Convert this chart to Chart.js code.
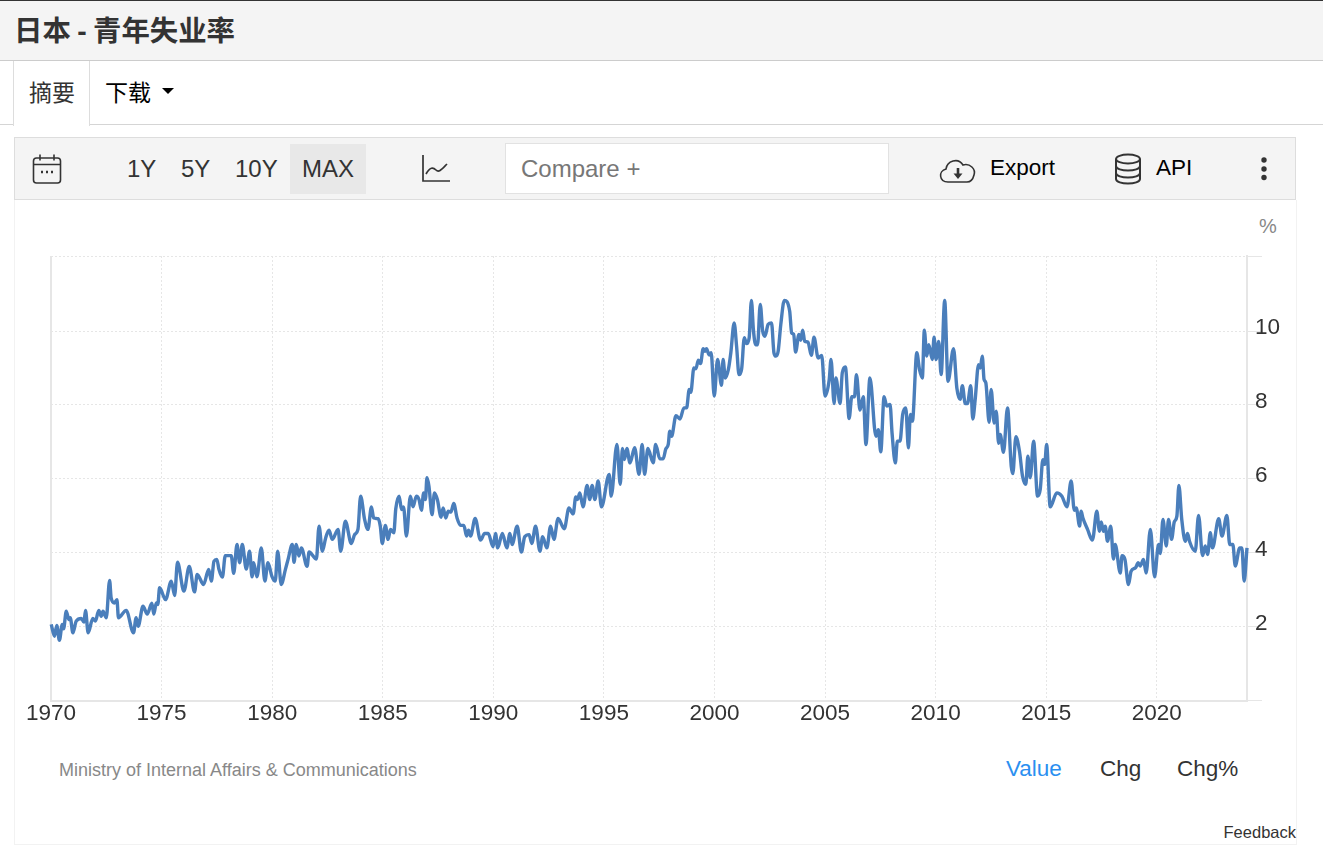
<!DOCTYPE html>
<html lang="zh-CN">
<head>
<meta charset="utf-8">
<title>日本 - 青年失业率</title>
<script src="https://cdn.jsdelivr.net/npm/chart.js@4"></script>
<style>
  * { box-sizing: border-box; }
  html, body { margin: 0; height: 862px; width: 1323px; overflow: hidden; background: #fff;
    font-family: "Liberation Sans", Arial, sans-serif; color: #333; }
  .abs { position: absolute; white-space: nowrap; }
  #header { left: 0; top: 0; width: 1323px; height: 61px; background: #f4f4f4;
    border-top: 1px solid #333; border-bottom: 1px solid #ccc; }
  #title { left: 14px; top: 12px; font: bold 28.4px/38px "Liberation Sans", "Noto Sans CJK SC"; word-spacing: -1.5px; color: #333; }
  #tabline { left: 0; top: 124px; width: 1323px; height: 1px; background: #d5d5d5; }
  #tab { left: 13px; top: 61px; width: 77px; height: 65px; background: #fff;
    border-left: 1px solid #ddd; border-right: 1px solid #ddd; }
  .tabtext { top: 74px; font: 23px/34px "Noto Sans CJK SC"; }
  #caret { left: 162px; top: 88px; width: 0; height: 0; border-left: 6px solid transparent;
    border-right: 6px solid transparent; border-top: 6px solid #000; }
  #toolbar { left: 14px; top: 137px; width: 1282px; height: 63px; background: #f4f4f4; border: 1px solid #ddd; }
  #maxbox { left: 290px; top: 144px; width: 76px; height: 50px; background: #e8e8e8; }
  #compare { left: 505px; top: 143px; width: 384px; height: 51px; background: #fff; border: 1px solid #e2e2e2; }
  .tool { top: 154px; font-size: 24px; line-height: 30px; color: #333; }
  .tool2 { top: 153px; font-size: 22.5px; line-height: 30px; color: #000; }
  #card { left: 14px; top: 200px; width: 1283px; height: 645px; border: 1px solid #f2f2f2; border-top: 0; }
  .views { top: 754px; font-size: 22.5px; line-height: 30px; color: #333; }
  canvas { position: absolute; left: 0; top: 0; }
</style>
</head>
<body>
<div class="abs" id="header"></div>
<div class="abs" id="title">日本 - 青年失业率</div>
<div class="abs" id="tabline"></div>
<div class="abs" id="tab"></div>
<div class="abs tabtext" style="left:29px;color:#333">摘要</div>
<div class="abs tabtext" style="left:105px;color:#000">下载</div>
<div class="abs" id="caret"></div>

<div class="abs" id="card"></div>
<div class="abs" id="toolbar"></div>
<div class="abs" id="maxbox"></div>
<div class="abs" id="compare"></div>

<svg class="abs" style="left:32px;top:153px" width="30" height="32" viewBox="0 0 30 32" fill="none" stroke="#333" stroke-width="1.6">
  <rect x="1.5" y="5" width="27" height="25" rx="3"/><path d="M1.5 11.5h27M8 1.5v6M22 1.5v6"/>
  <path d="M9 19h2M14 19h2M19 19h2" stroke-width="2.4"/>
</svg>
<div class="abs tool" style="left:127px">1Y</div>
<div class="abs tool" style="left:181px">5Y</div>
<div class="abs tool" style="left:235px">10Y</div>
<div class="abs tool" style="left:302px">MAX</div>
<svg class="abs" style="left:421px;top:154px" width="30" height="30" viewBox="0 0 30 30" fill="none" stroke="#333" stroke-width="1.7">
  <path d="M2 1v26h27"/><path d="M5 20c4-7 7-7 10-4s6-1 11-6"/>
</svg>
<div class="abs tool" style="left:521px;color:#777">Compare +</div>
<svg class="abs" style="left:939px;top:156px" width="38" height="28" viewBox="0 0 38 28" fill="none" stroke="#333" stroke-width="1.6">
  <path d="M9 26c-9 0-10-11-2-13 1-8 12-12 17-4 7-2 13 4 11 10-1 4-3 7-7 7z"/>
  <path d="M19 12v8" stroke-width="2.6"/><path d="M14.5 17.5h9L19 23z" fill="#333" stroke="none"/>
</svg>
<div class="abs tool2" style="left:990px">Export</div>
<svg class="abs" style="left:1114px;top:153px" width="28" height="32" viewBox="0 0 28 32" fill="none" stroke="#333" stroke-width="2">
  <ellipse cx="14" cy="6" rx="12" ry="4.5"/><path d="M2 6v20c0 6 24 6 24 0V6M2 13c0 6 24 6 24 0M2 20c0 6 24 6 24 0"/>
</svg>
<div class="abs tool2" style="left:1156px">API</div>
<svg class="abs" style="left:1258px;top:156px" width="12" height="26" viewBox="0 0 12 26" fill="#333">
  <circle cx="6" cy="4" r="2.7"/><circle cx="6" cy="13" r="2.7"/><circle cx="6" cy="21.500" r="2.7"/>
</svg>

<div class="abs" style="left:1259px;top:214px;font-size:20px;line-height:24px;color:#888">%</div>
<div class="abs" style="left:59px;top:758px;font-size:18px;line-height:24px;color:#888">Ministry of Internal Affairs &amp; Communications</div>
<div class="abs views" style="left:1006px;color:#2b8ff0">Value</div>
<div class="abs views" style="left:1100px">Chg</div>
<div class="abs views" style="left:1177px">Chg%</div>
<div class="abs" style="right:27px;top:822px;font-size:16.5px;line-height:20px;color:#333">Feedback</div>

<canvas id="chart" width="1323" height="862"></canvas>

<script>
// turning points of the series (decimal year / percent)
const years = [
  1970.01,1970.16,1970.26,1970.38,1970.51,1970.57,1970.69,1970.81,1970.87,1970.99,
  1971.14,1971.37,1971.49,1971.56,1971.68,1971.89,1972.01,1972.16,1972.27,1972.35,
  1972.50,1972.65,1972.72,1972.87,1972.98,1973.05,1973.40,1973.73,1973.85,1973.94,
  1974.16,1974.35,1974.56,1974.65,1974.76,1974.83,1974.91,1975.18,1975.44,1975.59,
  1975.72,1976.01,1976.25,1976.49,1976.61,1976.90,1977.13,1977.25,1977.37,1977.50,
  1977.59,1977.75,1977.88,1978.15,1978.26,1978.41,1978.53,1978.65,1978.83,1978.98,
  1979.09,1979.16,1979.31,1979.51,1979.67,1979.81,1979.99,1980.14,1980.25,1980.41,
  1980.60,1980.72,1980.91,1980.99,1981.09,1981.21,1981.32,1981.58,1981.67,1982.00,
  1982.12,1982.27,1982.42,1982.57,1982.72,1982.98,1983.10,1983.31,1983.58,1983.73,
  1983.88,1984.00,1984.18,1984.33,1984.49,1984.59,1984.79,1984.89,1984.98,1985.12,
  1985.24,1985.35,1985.50,1985.59,1985.74,1985.85,1985.94,1986.07,1986.25,1986.37,
  1986.52,1986.64,1986.75,1986.85,1986.93,1987.00,1987.09,1987.23,1987.34,1987.47,
  1987.64,1987.73,1987.85,1987.96,1988.08,1988.21,1988.36,1988.52,1988.67,1988.79,
  1988.88,1988.97,1989.18,1989.42,1989.61,1989.77,1989.99,1990.10,1990.20,1990.41,
  1990.61,1990.75,1990.85,1991.08,1991.27,1991.42,1991.62,1991.74,1991.91,1992.11,
  1992.23,1992.42,1992.59,1992.74,1992.93,1993.21,1993.42,1993.61,1993.73,1993.81,
  1993.91,1994.06,1994.24,1994.36,1994.47,1994.59,1994.74,1994.89,1995.24,1995.33,
  1995.59,1995.74,1995.84,1995.93,1996.04,1996.18,1996.39,1996.59,1996.73,1996.84,
  1996.99,1997.23,1997.34,1997.53,1997.68,1997.80,1997.91,1997.98,1998.06,1998.26,
  1998.44,1998.62,1998.74,1998.86,1998.93,1999.07,1999.16,1999.27,1999.37,1999.49,
  1999.57,1999.64,1999.76,1999.85,1999.99,2000.14,2000.32,2000.39,2000.49,2000.63,
  2000.74,2000.89,2001.00,2001.11,2001.23,2001.35,2001.45,2001.57,2001.67,2001.76,
  2001.86,2001.95,2002.07,2002.18,2002.28,2002.43,2002.58,2002.69,2002.78,2002.88,
  2003.00,2003.16,2003.40,2003.49,2003.58,2003.67,2003.82,2003.90,2003.99,2004.08,
  2004.23,2004.38,2004.50,2004.69,2004.85,2005.00,2005.19,2005.27,2005.41,2005.49,
  2005.68,2005.78,2005.92,2006.09,2006.21,2006.33,2006.42,2006.58,2006.73,2006.85,
  2007.03,2007.30,2007.41,2007.52,2007.67,2007.79,2007.94,2008.03,2008.18,2008.27,
  2008.39,2008.51,2008.65,2008.77,2008.86,2008.95,2009.15,2009.27,2009.40,2009.49,
  2009.60,2009.69,2009.85,2009.93,2010.02,2010.14,2010.25,2010.41,2010.56,2010.81,
  2010.96,2011.11,2011.21,2011.34,2011.44,2011.59,2011.68,2011.79,2011.94,2012.02,
  2012.11,2012.19,2012.27,2012.42,2012.51,2012.65,2012.74,2012.85,2012.92,2013.07,
  2013.25,2013.42,2013.49,2013.63,2013.79,2013.93,2014.08,2014.17,2014.28,2014.43,
  2014.61,2014.73,2014.85,2014.93,2015.02,2015.18,2015.48,2015.71,2015.94,2016.13,
  2016.27,2016.36,2016.51,2016.58,2016.66,2016.87,2017.09,2017.29,2017.41,2017.49,
  2017.59,2017.67,2017.77,2017.92,2018.04,2018.12,2018.35,2018.43,2018.56,2018.72,
  2018.84,2019.04,2019.16,2019.25,2019.40,2019.52,2019.71,2019.90,2020.08,2020.16,
  2020.28,2020.43,2020.53,2020.67,2020.79,2020.91,2021.00,2021.13,2021.29,2021.39,
  2021.48,2021.74,2021.89,2022.07,2022.19,2022.30,2022.42,2022.52,2022.80,2022.95,
  2023.17,2023.30,2023.44,2023.55,2023.75,2023.85,2023.95,2024.08
];
const rates = [
  2.06,1.74,2.03,1.63,2.06,1.94,2.42,2.19,2.24,1.83,
  2.15,2.22,2.12,2.44,1.83,2.22,2.15,2.44,2.28,2.42,
  2.24,3.25,2.78,2.64,2.73,2.24,2.44,1.83,2.24,2.01,
  2.55,2.34,2.63,2.34,2.64,2.60,3.05,2.73,3.23,2.84,
  3.74,2.96,3.63,2.94,3.41,3.14,3.55,3.23,3.77,3.82,
  3.56,3.34,3.92,3.92,3.44,4.22,3.73,4.22,3.56,4.04,
  3.35,3.73,3.35,4.13,3.23,3.73,3.36,3.23,4.04,3.14,
  3.55,3.82,4.22,3.74,4.22,3.91,4.13,3.63,4.02,3.83,
  4.72,4.04,4.40,4.61,4.36,4.63,4.04,4.85,4.25,4.49,
  4.63,5.53,4.90,4.63,5.24,4.94,4.92,4.72,4.25,4.74,
  4.36,4.63,4.54,5.19,5.53,5.17,5.24,4.45,5.53,5.24,
  5.53,5.44,5.15,5.62,5.44,6.03,5.80,5.03,5.62,5.44,
  4.96,5.21,4.94,5.12,5.10,5.33,4.94,4.74,4.74,4.45,
  4.61,4.45,4.93,4.34,4.52,4.52,4.16,4.52,4.13,4.52,
  4.13,4.52,4.22,4.72,4.02,4.43,4.49,4.25,4.72,4.04,
  4.43,4.13,4.72,4.36,4.93,4.65,5.21,5.05,5.51,5.44,
  5.62,5.24,5.82,5.44,5.82,5.44,5.94,5.24,6.12,5.53,
  6.93,5.85,6.82,6.52,6.82,6.43,6.84,6.12,6.93,6.12,
  6.82,6.43,6.93,6.54,6.54,6.81,6.93,7.29,7.15,7.71,
  7.62,7.92,7.92,8.42,8.34,9.00,8.98,9.21,9.12,9.52,
  9.45,9.52,9.35,9.41,8.24,9.23,8.53,9.23,8.73,8.96,
  9.41,10.22,9.59,8.82,8.98,9.82,9.66,9.82,10.83,10.04,
  9.63,9.63,10.72,10.00,9.86,10.18,10.22,9.41,9.32,9.45,
  10.18,10.83,10.54,9.95,9.91,9.43,9.91,9.75,10.02,9.72,
  9.70,9.34,9.83,9.27,9.34,8.24,8.69,9.23,8.04,8.73,
  8.04,8.87,9.03,7.63,8.22,8.22,8.82,7.86,8.22,6.93,
  8.73,7.15,7.33,6.73,8.22,7.97,8.01,7.24,6.43,7.02,
  7.02,7.74,7.92,6.84,7.74,7.56,9.41,8.96,8.73,10.02,
  9.32,9.63,9.23,9.83,9.23,9.72,8.82,10.83,8.64,9.52,
  8.46,8.15,8.52,8.04,8.04,8.52,7.62,8.15,9.09,9.00,
  9.32,8.69,8.60,7.53,8.42,7.51,7.83,6.96,7.20,6.72,
  7.92,6.34,6.14,7.14,6.75,6.07,5.85,6.61,6.03,7.02,
  5.53,5.71,6.52,6.39,6.93,5.24,5.62,5.53,5.24,5.94,
  5.15,5.21,4.72,5.12,4.94,4.63,4.34,5.12,4.58,4.83,
  4.58,4.72,4.31,4.72,3.83,4.22,3.45,3.92,3.82,3.14,
  3.50,3.59,3.73,3.64,3.82,3.45,4.63,3.35,4.22,3.98,
  4.90,4.18,4.90,4.36,4.83,4.99,5.82,4.90,4.31,4.52,
  4.31,4.04,5.01,3.92,4.18,3.95,4.54,4.13,4.92,4.45,
  5.01,4.22,4.22,3.64,4.13,4.13,3.23,4.13
];
const xTicks = [1970, 1975, 1980, 1985, 1990, 1995, 2000, 2005, 2010, 2015, 2020];
const yTicks = [0, 2, 4, 6, 8, 10, 12.03];
const yTickLabels = ['', '2', '4', '6', '8', '10', ''];

const GRID = '#e6e6e6';

new Chart(document.getElementById('chart'), {
  type: 'line',
  data: {
    datasets: [{
      data: years.map((y, i) => ({ x: y, y: rates[i] })),
      borderColor: '#4a7ebb',
      borderWidth: 3.4,
      cubicInterpolationMode: 'monotone',
      pointRadius: 0,
      clip: false,
    }]
  },
  options: {
    responsive: false,
    animation: false,
    events: [],
    layout: { padding: { left: 51, top: 256, right: 0, bottom: 131.5 } },
    plugins: { legend: { display: false }, tooltip: { enabled: false } },
    scales: {
      x: {
        type: 'linear',
        min: 1970,
        max: 2024.08,
        afterFit: s => { s.height = 30; },
        afterBuildTicks: s => { s.ticks = xTicks.map(v => ({ value: v })); },
        ticks: {
          autoSkip: false, maxRotation: 0, padding: 0, color: '#333',
          font: { family: '"Liberation Sans"', size: 22.5 },
          callback: v => String(v),
        },
        grid: {
          drawTicks: false,
          color: GRID,
          lineWidth: c => (c.tick && c.tick.value === 1970 ? 2 : 1),
        },
        border: {
          color: GRID, width: 2,
          dash: c => (c.tick && c.tick.value === 1970 ? [] : [2, 2]),
        },
      },
      y: {
        position: 'right',
        min: 0,
        max: 12.03,
        afterFit: s => { s.width = 76; },
        afterBuildTicks: s => { s.ticks = yTicks.map(v => ({ value: v })); },
        ticks: {
          autoSkip: false, padding: -7, color: '#333',
          // second empty line lifts the number a few px above its grid line
          font: { family: '"Liberation Sans"', size: 22.5, lineHeight: '6px' },
          callback: v => [yTickLabels[yTicks.indexOf(v)], ''],
        },
        grid: { color: GRID, lineWidth: 1, tickLength: 15, tickColor: GRID },
        border: { color: GRID, width: 2, dash: [2, 2] },
      },
    },
  },
});
</script>
</body>
</html>
